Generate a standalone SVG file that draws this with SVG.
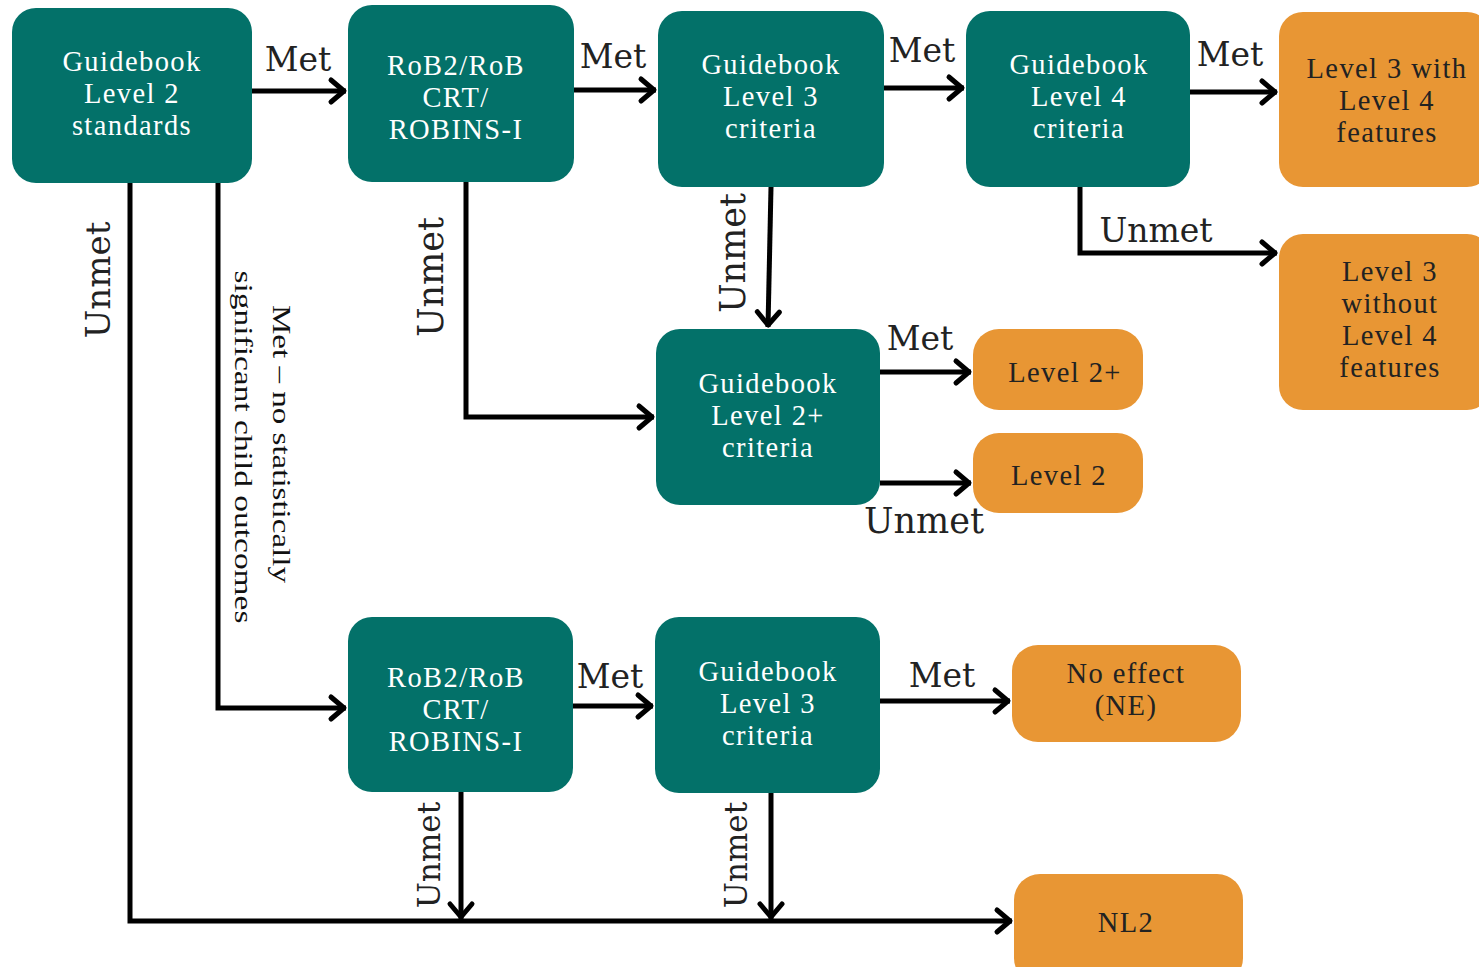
<svg xmlns="http://www.w3.org/2000/svg" width="1479" height="967" viewBox="0 0 1479 967">
<style>
.t{fill:#037169}
.o{fill:#E89634}
.nt{font-family:"Liberation Serif",serif;font-size:28.5px;letter-spacing:1.4px;fill:#ffffff;text-anchor:middle}
.ot{font-family:"Liberation Serif",serif;font-size:28.5px;letter-spacing:1.4px;fill:#222222;text-anchor:middle}
.lb{font-family:"DejaVu Serif",serif;font-size:33px;fill:#222222;text-anchor:middle}
.rl{font-family:"Liberation Serif",serif;font-size:25px;fill:#111111;text-anchor:middle}
.c{fill:none;stroke:#000;stroke-width:5;stroke-linejoin:miter;marker-end:url(#ah)}
</style>
<defs>
<marker id="ah" markerUnits="userSpaceOnUse" markerWidth="30" markerHeight="30" refX="2" refY="0" viewBox="-20 -15 30 30" orient="auto" overflow="visible">
<path d="M-13,-11 L0,0 L-13,11" fill="none" stroke="#000" stroke-width="5" stroke-linecap="round" stroke-linejoin="round"/>
</marker>
</defs>
<rect width="1479" height="967" fill="#ffffff"/>

<g id="connectors">
<path class="c" d="M252,91 H346"/>
<path class="c" d="M574,90 H656"/>
<path class="c" d="M884,88 H964"/>
<path class="c" d="M1190,92 H1277"/>
<path class="c" d="M1080,187 V253 H1277"/>
<path class="c" d="M771,187 L768,327"/>
<path class="c" d="M466,182 V417 H654"/>
<path class="c" d="M880,372 H971"/>
<path class="c" d="M880,483 H971"/>
<path class="c" d="M218,183 V708 H346"/>
<path class="c" d="M130,183 V921 H1012"/>
<path class="c" d="M573,706 H653"/>
<path class="c" d="M880,701 H1010"/>
<path class="c" d="M461,792 V919"/>
<path class="c" d="M771,792 V919"/>
</g>

<g id="labels">
<text class="lb" x="298" y="71">Met</text>
<text class="lb" x="613" y="68">Met</text>
<text class="lb" x="922" y="62">Met</text>
<text class="lb" x="1230" y="66">Met</text>
<text class="lb" x="1156" y="242">Unmet</text>
<text class="lb" x="920" y="350">Met</text>
<text class="lb" x="924" y="533" style="font-size:35px">Unmet</text>
<text class="lb" x="610" y="688">Met</text>
<text class="lb" x="942" y="687">Met</text>
<text class="lb" transform="translate(110,280) rotate(-90)" style="font-size:34px">Unmet</text>
<text class="lb" transform="translate(443,277) rotate(-90)" style="font-size:35px">Unmet</text>
<text class="lb" transform="translate(745,253) rotate(-90)" style="font-size:35px">Unmet</text>
<text class="lb" transform="translate(440,855) rotate(-90)" style="font-size:31px">Unmet</text>
<text class="lb" transform="translate(747,855) rotate(-90)" style="font-size:31px">Unmet</text>
<text class="rl" transform="translate(273,444) rotate(90)" textLength="278" lengthAdjust="spacingAndGlyphs">Met – no statistically</text>
<text class="rl" transform="translate(235,447) rotate(90)" textLength="353" lengthAdjust="spacingAndGlyphs">significant child outcomes</text>
</g>

<g id="n1"><rect class="t" x="12" y="8" width="240" height="175" rx="24"/>
<text class="nt" x="132" y="71">Guidebook</text><text class="nt" x="132" y="103">Level 2</text><text class="nt" x="132" y="135">standards</text></g>

<g id="n2"><rect class="t" x="348" y="5" width="226" height="177" rx="24"/>
<text class="nt" x="456" y="75">RoB2/RoB</text><text class="nt" x="456" y="107">CRT/</text><text class="nt" x="456" y="139">ROBINS-I</text></g>

<g id="n3"><rect class="t" x="658" y="11" width="226" height="176" rx="24"/>
<text class="nt" x="771" y="74">Guidebook</text><text class="nt" x="771" y="106">Level 3</text><text class="nt" x="771" y="138">criteria</text></g>

<g id="n4"><rect class="t" x="966" y="11" width="224" height="176" rx="24"/>
<text class="nt" x="1079" y="74">Guidebook</text><text class="nt" x="1079" y="106">Level 4</text><text class="nt" x="1079" y="138">criteria</text></g>

<g id="n5"><rect class="o" x="1279" y="12" width="212" height="175" rx="24"/>
<text class="ot" x="1387" y="78">Level 3 with</text><text class="ot" x="1387" y="110">Level 4</text><text class="ot" x="1387" y="142">features</text></g>

<g id="n6"><rect class="o" x="1279" y="234" width="212" height="176" rx="24"/>
<text class="ot" x="1390" y="281">Level 3</text><text class="ot" x="1390" y="313">without</text><text class="ot" x="1390" y="345">Level 4</text><text class="ot" x="1390" y="377">features</text></g>

<g id="n7"><rect class="t" x="656" y="329" width="224" height="176" rx="24"/>
<text class="nt" x="768" y="393">Guidebook</text><text class="nt" x="768" y="425">Level 2+</text><text class="nt" x="768" y="457">criteria</text></g>

<g id="n8"><rect class="o" x="973" y="329" width="170" height="81" rx="26"/>
<text class="ot" x="1065" y="382">Level 2+</text></g>

<g id="n9"><rect class="o" x="973" y="433" width="170" height="80" rx="26"/>
<text class="ot" x="1059" y="485">Level 2</text></g>

<g id="n10"><rect class="t" x="348" y="617" width="225" height="175" rx="24"/>
<text class="nt" x="456" y="687">RoB2/RoB</text><text class="nt" x="456" y="719">CRT/</text><text class="nt" x="456" y="751">ROBINS-I</text></g>

<g id="n11"><rect class="t" x="655" y="617" width="225" height="176" rx="24"/>
<text class="nt" x="768" y="681">Guidebook</text><text class="nt" x="768" y="713">Level 3</text><text class="nt" x="768" y="745">criteria</text></g>

<g id="n12"><rect class="o" x="1012" y="645" width="229" height="97" rx="26"/>
<text class="ot" x="1126" y="683">No effect</text><text class="ot" x="1126" y="715">(NE)</text></g>

<g id="n13"><rect class="o" x="1014" y="874" width="229" height="110" rx="26"/>
<text class="ot" x="1126" y="932">NL2</text></g>
</svg>
